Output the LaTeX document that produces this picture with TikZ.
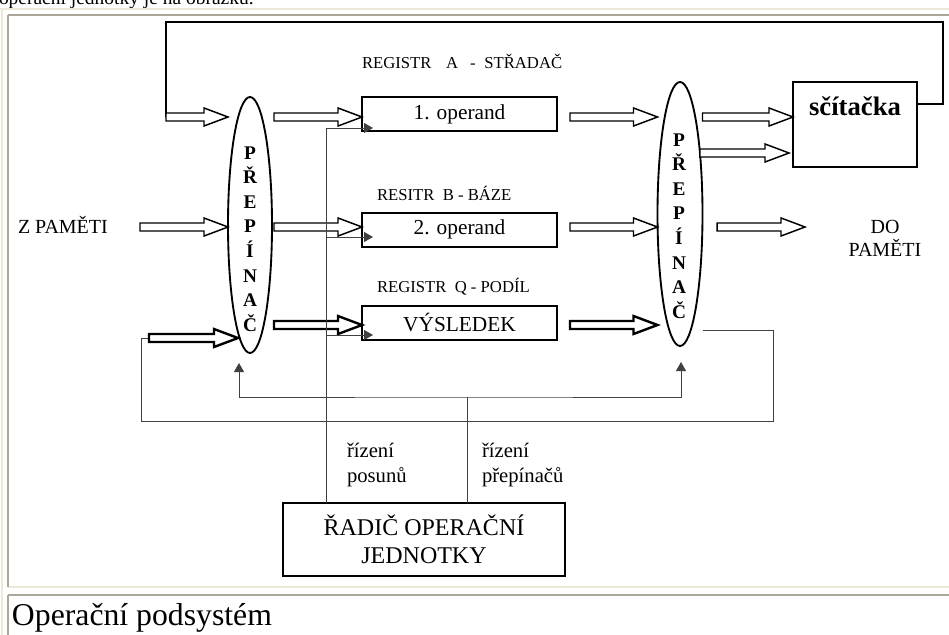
\documentclass[tikz,border=0pt]{standalone}
\usepackage{fontspec}
\setmainfont{Liberation Serif}
\usetikzlibrary{calc,arrows.meta,shapes.geometric}
\definecolor{tblight}{RGB}{236,233,216}
\definecolor{tbgray}{RGB}{172,168,153}
\newcommand{\harr}[3][]{%
  \draw[harrow,#1] let \p1=#2, \p2=#3 in
    (\x1,\y1+3pt) -- (\x2-18pt,\y1+3pt) -- (\x2-18pt,\y1+6.75pt) -- (\x2,\y1)
    -- (\x2-18pt,\y1-6.75pt) -- (\x2-18pt,\y1-3pt) -- (\x1,\y1-3pt) -- cycle;}
\begin{document}
\begin{tikzpicture}[x=0.75pt,y=-0.75pt,
  every node/.style={inner sep=0pt, outer sep=0pt},
  reg/.style={draw, line width=1.5pt, minimum width=146.25pt, minimum height=25.5pt,
    font=\fontsize{16}{19}\selectfont},
  swl/.style={draw, ellipse, line width=1.4pt},
  swtext/.style={align=center, font=\bfseries\fontsize{14.5}{18.45}\selectfont},
  lab/.style={anchor=base west, font=\fontsize{12.5}{15}\selectfont},
  side/.style={font=\fontsize{15}{17.25}\selectfont},
  ctl/.style={font=\fontsize{15.5}{18.75}\selectfont, align=left, anchor=west},
  harrow/.style={draw, line width=1.1pt, fill=white, line join=miter},
  harrowb/.style={line width=1.8pt},
  ctrl/.style={draw=black!75, line width=0.75pt},
  fb/.style={draw, line width=1.5pt},
  tipa/.style={-{Triangle[length=6.75pt,width=7.5pt]}},
  tipb/.style={{Triangle[length=6.75pt,width=7.5pt]}-{Triangle[length=6.75pt,width=7.5pt]}},
  border/.style={line width=1.5pt}
]
\path[use as bounding box, clip] (0,0) rectangle (949,635);
\fill[white] (0,0) rectangle (949,635);

% page text and table borders
\node[font=\fontsize{14.6}{17}\selectfont, anchor=base west] (toptext) at (-1,5) {operační jednotky je na obrázku.};
\draw[border, tblight] (0,9) -- (949,9);
\draw[border, tblight] (2,9) -- (2,635);
\draw[border, tblight] (8,587) -- (949,587);
\draw[border, tbgray] (8,15) -- (949,15);
\draw[border, tbgray] (8,15) -- (8,587);
\draw[border, tbgray] (8,595) -- (949,595);
\draw[border, tbgray] (8,595) -- (8,635);
\node[font=\fontsize{23.8}{28}\selectfont, anchor=base west] (caption) at (12,625) {Operační podsystém};

% row coordinates
\coordinate (r1) at (0,117);
\coordinate (r2) at (0,227);
\coordinate (r3) at (0,325);
\coordinate (rs) at (0,153);
\coordinate (rb) at (0,338);
\coordinate (rl) at (0,330);
\coordinate (fy) at (0,104);

% switches
\node[swl, minimum width=33pt, minimum height=192pt] (L) at (250,225) {};
\node[swtext] (Lt) at (250,239) {P\\Ř\\E\\P\\Í\\N\\A\\Č};
\node[swl, minimum width=33.75pt, minimum height=198pt] (R) at (680,214) {};
\node[swtext] (Rt) at (679,226) {P\\Ř\\E\\P\\Í\\N\\A\\Č};

% registers
\node[reg] (op1) at (459.5,114) {1. operand};
\node[reg] (op2) at (459.5,229.5) {2. operand};
\node[reg] (op3) at (459.5,322.5) {VÝSLEDEK};
\node[lab] (la) at (362,68.5) {REGISTR\hspace{11pt}A\hspace{9pt}-\hspace{6.5pt}STŘADAČ};
\node[lab] (lb) at (377,200.5) {RESITR\ \ B - BÁZE};
\node[lab] (lq) at (377,292.5) {REGISTR\ \ Q - PODÍL};

% adder
\node[draw, line width=1.5pt, minimum width=93pt, minimum height=63.75pt] (sc) at (855,124.5) {};
\node[font=\bfseries\fontsize{20}{24}\selectfont] (sct) at (855,106) {sčítačka};

% controller
\node[draw, line width=1.3pt, minimum width=211.5pt, minimum height=54.75pt, align=center,
  font=\fontsize{18}{21}\selectfont] (rad) at (424,539.5) {ŘADIČ OPERAČNÍ\\JEDNOTKY};

% side texts
\node[side, anchor=base west] (zp) at (18,233.5) {Z PAMĚTI};
\node[side, align=center] (dp) at (885,238.5) {DO\\PAMĚTI};
\node[ctl] (cp) at (347,465) {řízení\\posunů};
\node[ctl] (cs) at (482,465) {řízení\\přepínačů};

% helper coordinates
\coordinate (a1s) at (166,117);
\coordinate (fr) at (943,22);
\coordinate (zpa) at (140,227);
\coordinate (bl) at (149,338);
\coordinate (dpa) at (805,227);
\coordinate (lr) at (773,421);
\coordinate (ll) at (141,421);
\coordinate (sx) at (326,0);
\coordinate (t1) at (373,128);
\coordinate (t2) at (373,237);
\coordinate (t3) at (373,335);
\coordinate (px) at (467,397);
\coordinate (lu) at (239,363);
\coordinate (ru) at (681,362);

% feedback from adder
\draw[fb] (sc.east |- fy) -| (fr) -| (a1s);

% bottom loop
\draw[ctrl] (R.east |- rl) -| (lr) -- (ll) |- (bl);

% hollow arrows
\harr{(a1s)}{(L.west |- r1)}
\harr{([xshift=1.5pt]L.east |- r1)}{(op1.west |- r1)}
\harr{(zpa)}{(L.west |- r2)}
\harr{([xshift=1.5pt]L.east |- r2)}{(op2.west |- r2)}
\harr[harrowb]{(bl)}{([xshift=7.5pt]L.west |- rb)}
\harr[harrowb]{([xshift=1.5pt]L.east |- r3)}{(op3.west |- r3)}
\harr{([xshift=9.75pt]op1.east |- r1)}{(R.west |- r1)}
\harr{([xshift=9.75pt]op2.east |- r2)}{(R.west |- r2)}
\harr[harrowb]{([xshift=9.75pt]op3.east |- r3)}{(R.west |- r3)}
\harr{(R.east |- r1)}{(sc.west |- r1)}
\harr{([xshift=-2pt]R.east |- rs)}{([xshift=-3pt]sc.west |- rs)}
\harr{([xshift=11pt]R.east |- r2)}{(dpa)}

% control lines
\draw[ctrl] (rad.north -| sx) -- (sx |- t1);
\foreach \t in {t1,t2,t3} \draw[ctrl,tipa] (sx |- \t) -- (\t);
\draw[ctrl] (rad.north -| px) -- (px);
\draw[ctrl,tipb] (lu) |- (px) -| (ru);
\end{tikzpicture}
\end{document}
